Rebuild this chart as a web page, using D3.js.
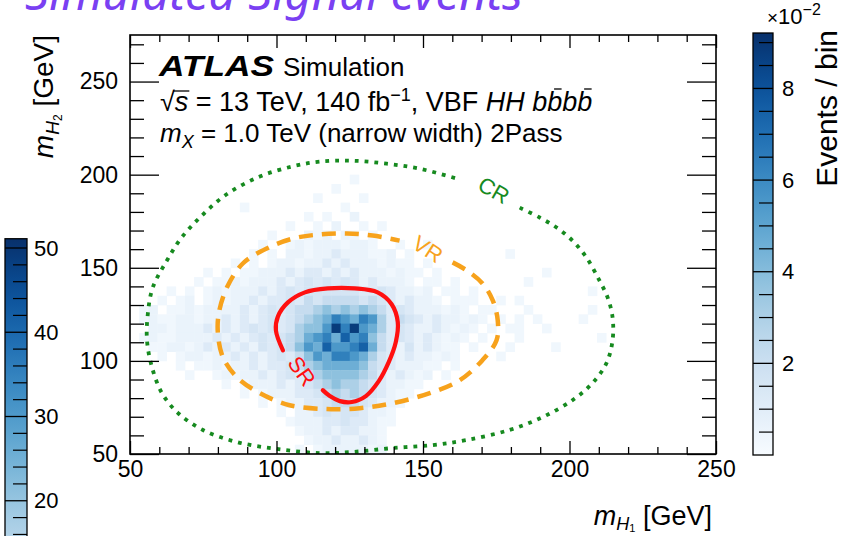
<!DOCTYPE html>
<html>
<head>
<meta charset="utf-8">
<script src="https://cdn.jsdelivr.net/npm/d3@7"></script>
<style>
  body { margin: 0; background: #fff; overflow: hidden; }
  svg { display: block; }
  svg text { font-family: "Liberation Sans", Arial, Helvetica, sans-serif; fill: #000; }
</style>
</head>
<body>
<svg id="chart" width="853" height="536"></svg>
<script>
// axis ranges and ticks
const xDomain = [50, 250];
const yDomain = [50, 275];
const xTickValues = [50, 100, 150, 200, 250];
const yTickValues = [50, 100, 150, 200, 250];

// z axis (events / bin, x 10^-2)
const zDomain = [0, 0.0921];
const zTickValues = [0.02, 0.04, 0.06, 0.08];
const zTickLabels = ["2", "4", "6", "8"];

// palette of the neighbouring plot that is cut off on the left of the slide
const sideDomain = [0, 51.1];
const sideTickValues = [20, 30, 40, 50];

// histogram binning (GeV)
const binWidthX = 3.125;
const binWidthY = 5;

// cell levels
const levelValues = {
  a: 0.003, b: 0.006, c: 0.012,
  "1": 0.016, "2": 0.022, "3": 0.03, "4": 0.038, "5": 0.046,
  "6": 0.055, "7": 0.064, "8": 0.075, "9": 0.088
};

// rows from mH2 = 195-200 (top) down to 50-55 (bottom); columns start at mH1 = 50
const gridRows = [
  "..........|..........|....a.....|..........|..........|...",
  "..........|..........|..a.......|..........|..........|...",
  "..........|..........|a....a....|..........|..........|...",
  "..........|..a.......|...a......|..........|..........|...",
  "..........|.........a|.a..b.....|..........|..........|...",
  "..........|.......a..|a.b..a.a..|..........|..........|...",
  "..........|.....a...b|ab.ba.a...|..........|..........|...",
  "..........|....a..aba|bbbabba..a|..a.......|..........|...",
  "..........|...a.a.bba|bbcbbbaab.|a.........|.a........|...",
  "..........|.a.a.abbab|bcbcbbbaba|a.a.......|..........|...",
  "........a.|a.aabbbcbc|cbcbcbbbab|aa.a......|.....a....|...",
  ".......a.a|ababbbcbc1|c1c1cbcbbb|a.aa.a....|...a......|...",
  "....a.a.ab|abbbcbc1c1|11111cc1cb|bab.aa.a..|..........|a..",
  "...a.ab.ab|abbcbcc1c2|12222121cb|cbba.aaa..|a.a.......|...",
  ".ab.aababb|bbcbc1c122|34343432c1|cbbbaba.aa|...a......|a..",
  ".abaabbabb|cbcbc1c123|45765763c2|1cbcbbaba.|a.a.a....a|...",
  "..bbabbbcb|cbc1c1c134|46979653c1|cbbcbaba.a|.aa..a....|...",
  ".abaabbbbc|bcbc1c1235|67586742c1|cbcbaba.a.|..a.......|.a.",
  "..aabbabcb|cbcb1c1246|58667852cb|1bcbaa.a..|.a....a...|...",
  "...a.abbab|bcbcbc1c24|65776531cb|cbbaba....|a.........|...",
  ".....a.aab|abbcbcc123|45555421cb|bbaa.a....|..........|...",
  "......a..a|babbcbc1c2|3444432cbc|bab.a.....|..........|...",
  "..........|a.abbbcbc1|2343321cbb|aa........|..........|...",
  "..........|..a.abbbcc|1232321cba|a.........|..........|...",
  "..........|....a.abbc|c12221cbba|..........|..........|...",
  "..........|......a.bb|c1c11cbba.|..........|..........|...",
  "..........|.......abb|bcc1ccbaa.|..........|..........|...",
  "..........|........ab|bcbccbba..|..........|..........|...",
  "..........|.........a|bbcbbcba..|..........|..........|...",
  "..........|........a.|abbbbbab..|..........|..........|..."
];

// region boundaries [mH1, mH2] in GeV
const srPoints = [
  [102.2, 105.7], [99.8, 116.4], [100.5, 123.9], [103.9, 131.4], [109.7, 136.8],
  [117.5, 138.9], [126.7, 138.9], [134.5, 136.8], [139.3, 130.4], [141.4, 120.7],
  [140.7, 110.0], [138.3, 99.3], [134.9, 89.1], [130.5, 81.1], [125.7, 77.9],
  [121.6, 78.4], [118.2, 81.1], [115.8, 84.3]
];
const vrPoints = [
  [160.1, 152.9], [164.9, 148.6], [170.3, 141.6], [173.8, 132.5], [175.5, 121.8],
  [175.1, 111.1], [170.3, 100.4], [162.5, 89.6], [152.3, 82.7], [139.7, 77.3],
  [128.4, 74.6], [117.2, 74.1], [104.5, 76.2], [94.3, 82.7], [86.5, 91.2],
  [81.7, 102.0], [80.0, 114.8], [80.3, 125.5], [83.1, 139.5], [88.5, 152.3],
  [96.7, 160.4], [105.6, 165.7], [114.8, 167.9], [124.0, 168.4], [132.8, 167.3],
  [142.0, 164.6]
];
const crPoints = [
  [183.0, 182.3], [189.8, 177.0], [195.6, 171.6], [201.0, 164.6], [205.8, 155.5],
  [210.2, 143.2], [213.0, 134.1], [214.7, 123.4], [214.7, 111.1], [212.6, 98.7],
  [207.8, 88.0], [201.0, 78.9], [190.8, 69.8], [179.5, 62.9], [164.9, 57.5],
  [153.3, 54.8], [139.7, 53.2], [126.0, 51.1], [114.8, 50.5], [100.1, 52.7],
  [86.5, 56.4], [74.9, 62.9], [66.4, 72.0], [60.9, 82.7], [57.5, 96.6],
  [55.8, 111.1], [56.1, 125.5], [57.8, 139.5], [62.6, 153.9], [67.5, 166.0],
  [74.5, 178.0], [83.0, 189.5], [94.3, 199.0], [105.6, 204.5], [114.8, 207.0],
  [126.0, 207.5], [137.6, 205.9], [148.9, 203.2], [161.5, 197.9]
];

const svg = d3.select("#chart");

// slide title above the figure (its top is cut by the slide edge)
const title = svg.append("text")
  .attr("x", 25).attr("y", 10)
  .style("font-family", "'Noto Sans', sans-serif")
  .style("font-style", "italic")
  .style("fill", "#7a40f2")
  .attr("font-size", 40)
  .text("Simulated Signal events");
{
  const w = title.node().getComputedTextLength();
  title.attr("font-size", 40 * 498 / w);
}

const x = d3.scaleLinear().domain(xDomain).range([130, 716]);
const y = d3.scaleLinear().domain(yDomain).range([454, 35]);
const color = d3.scaleSequential(d3.interpolateBlues).domain(zDomain);

svg.append("defs").append("clipPath").attr("id", "plot-clip")
  .append("rect").attr("x", 130).attr("y", 35).attr("width", 586).attr("height", 419);

const plot = svg.append("g").attr("clip-path", "url(#plot-clip)");

// 2D histogram cells
const cells = [];
gridRows.forEach((row, r) => {
  const chars = row.replace(/\|/g, "");
  const j = gridRows.length - 1 - r;
  for (let i = 0; i < chars.length; i++) {
    const v = levelValues[chars[i]];
    if (v) cells.push({ x0: xDomain[0] + i * binWidthX, y0: yDomain[0] + j * binWidthY, v: v });
  }
});

plot.append("g")
  .selectAll("rect")
  .data(cells)
  .join("rect")
  .attr("x", d => x(d.x0))
  .attr("y", d => y(d.y0 + binWidthY))
  .attr("width", d => x(d.x0 + binWidthX) - x(d.x0) + 0.4)
  .attr("height", d => y(d.y0) - y(d.y0 + binWidthY) + 0.4)
  .attr("fill", d => color(d.v));

// region boundaries
const line = d3.line()
  .x(d => x(d[0]))
  .y(d => y(d[1]))
  .curve(d3.curveCatmullRom.alpha(0.5));

plot.append("path")
  .attr("d", line(crPoints))
  .attr("fill", "none")
  .attr("stroke", "#168a1f")
  .attr("stroke-width", 3.8)
  .attr("stroke-dasharray", "3.8 6");

plot.append("path")
  .attr("d", line(vrPoints))
  .attr("fill", "none")
  .attr("stroke", "#f7a21c")
  .attr("stroke-width", 4.5)
  .attr("stroke-dasharray", "14 9");

plot.append("path")
  .attr("d", line(srPoints))
  .attr("fill", "none")
  .attr("stroke", "#ff1010")
  .attr("stroke-width", 4.2)
  .attr("stroke-linecap", "round");

// region labels
const regionLabels = [
  { text: "CR", px: 494, py: 190, angle: 30, fill: "#168a1f" },
  { text: "VR", px: 428, py: 249, angle: 33, fill: "#f7a21c" },
  { text: "SR", px: 302, py: 371, angle: 55, fill: "#ff1010" }
];
svg.append("g")
  .selectAll("text")
  .data(regionLabels)
  .join("text")
  .attr("transform", d => `translate(${d.px},${d.py}) rotate(${d.angle})`)
  .attr("text-anchor", "middle")
  .attr("dy", "0.36em")
  .attr("font-size", 22)
  .style("fill", d => d.fill)
  .text(d => d.text);

// axes (ROOT style: ticks pointing inward on all four sides)
function styleAxis(g) {
  g.select(".domain").remove();
  g.selectAll(".tick line").attr("stroke", "#000").attr("stroke-width", 1.3);
  g.selectAll(".tick text").attr("font-size", 23);
}
const xMinor = d3.range(60, 250, 10).filter(v => v % 50 !== 0);
const yMinor = d3.range(60, 275, 10).filter(v => v % 50 !== 0);

svg.append("g").attr("transform", "translate(0,454)")
  .call(d3.axisBottom(x).tickValues(xTickValues).tickSizeInner(-13).tickSizeOuter(0).tickPadding(7).tickFormat(d3.format("d")))
  .call(styleAxis);
svg.append("g").attr("transform", "translate(0,454)")
  .call(d3.axisBottom(x).tickValues(xMinor).tickSizeInner(-7).tickSizeOuter(0).tickFormat(""))
  .call(styleAxis);
svg.append("g").attr("transform", "translate(0,35)")
  .call(d3.axisTop(x).tickValues(xTickValues).tickSizeInner(-13).tickSizeOuter(0).tickFormat(""))
  .call(styleAxis);
svg.append("g").attr("transform", "translate(0,35)")
  .call(d3.axisTop(x).tickValues(xMinor).tickSizeInner(-7).tickSizeOuter(0).tickFormat(""))
  .call(styleAxis);

svg.append("g").attr("transform", "translate(130,0)")
  .call(d3.axisLeft(y).tickValues(yTickValues).tickSizeInner(-29).tickSizeOuter(0).tickPadding(12).tickFormat(d3.format("d")))
  .call(styleAxis);
svg.append("g").attr("transform", "translate(130,0)")
  .call(d3.axisLeft(y).tickValues(yMinor).tickSizeInner(-14).tickSizeOuter(0).tickFormat(""))
  .call(styleAxis);
svg.append("g").attr("transform", "translate(716,0)")
  .call(d3.axisRight(y).tickValues(yTickValues).tickSizeInner(-29).tickSizeOuter(0).tickFormat(""))
  .call(styleAxis);
svg.append("g").attr("transform", "translate(716,0)")
  .call(d3.axisRight(y).tickValues(yMinor).tickSizeInner(-14).tickSizeOuter(0).tickFormat(""))
  .call(styleAxis);

svg.append("rect")
  .attr("x", 130).attr("y", 35).attr("width", 586).attr("height", 419)
  .attr("fill", "none").attr("stroke", "#000").attr("stroke-width", 1.6);

// axis titles
const xTitle = svg.append("text").attr("x", 712).attr("y", 525).attr("text-anchor", "end").attr("font-size", 27);
xTitle.append("tspan").attr("font-style", "italic").text("m");
xTitle.append("tspan").attr("font-style", "italic").attr("font-size", 18).attr("dy", 5).text("H");
xTitle.append("tspan").attr("font-size", 11).attr("dy", 2).text("1");
xTitle.append("tspan").attr("dy", -7).text(" [GeV]");

const yTitle = svg.append("text").attr("transform", "translate(53,35) rotate(-90)").attr("text-anchor", "end").attr("font-size", 28);
yTitle.append("tspan").attr("font-style", "italic").text("m");
yTitle.append("tspan").attr("font-style", "italic").attr("font-size", 19).attr("dy", 6).text("H");
yTitle.append("tspan").attr("font-size", 12).attr("dy", 3).text("2");
yTitle.append("tspan").attr("dy", -9).text(" [GeV]");

// ATLAS label
const lab = svg.append("g");
lab.append("text").attr("x", 159).attr("y", 76)
  .attr("font-size", 30).attr("font-weight", "bold").attr("font-style", "italic")
  .attr("textLength", 115).attr("lengthAdjust", "spacingAndGlyphs")
  .text("ATLAS");
lab.append("text").attr("x", 283).attr("y", 76).attr("font-size", 26).text("Simulation");

const l2 = lab.append("text").attr("x", 160).attr("y", 111).attr("font-size", 27);
l2.append("tspan").text("\u221A");
l2.append("tspan").attr("font-style", "italic").text("s");
l2.append("tspan").text(" = 13 TeV, 140 fb");
l2.append("tspan").attr("font-size", 18).attr("dy", -10).text("\u22121");
l2.append("tspan").attr("dy", 10).text(", VBF ");
l2.append("tspan").attr("font-style", "italic").text("HH bbbb");
{
  const node = l2.node();
  const full = node.textContent;
  const root = node.getExtentOfChar(0);
  const s = node.getExtentOfChar(1);
  lab.append("line")
    .attr("x1", root.x + root.width - 1).attr("x2", s.x + s.width + 1)
    .attr("y1", root.y + 4).attr("y2", root.y + 4)
    .attr("stroke", "#000").attr("stroke-width", 1.3);
  [full.length - 3, full.length - 1].forEach(i => {
    const b = node.getExtentOfChar(i);
    lab.append("line")
      .attr("x1", b.x + b.width * 0.45).attr("x2", b.x + b.width * 0.95)
      .attr("y1", 89).attr("y2", 89)
      .attr("stroke", "#000").attr("stroke-width", 1.3);
  });
}

const l3 = lab.append("text").attr("x", 160).attr("y", 142).attr("font-size", 26);
l3.append("tspan").attr("font-style", "italic").text("m");
l3.append("tspan").attr("font-style", "italic").attr("font-size", 18).attr("dy", 6).text("X");
l3.append("tspan").attr("dy", -6).text(" = 1.0 TeV (narrow width) 2Pass");

// z colour bar
const z = d3.scaleLinear().domain(zDomain).range([455, 33]);
const grad = svg.select("defs").append("linearGradient")
  .attr("id", "zgrad").attr("x1", 0).attr("x2", 0).attr("y1", 1).attr("y2", 0);
grad.selectAll("stop")
  .data(d3.range(0, 1.0001, 0.05))
  .join("stop")
  .attr("offset", t => t)
  .attr("stop-color", t => color(zDomain[0] + t * (zDomain[1] - zDomain[0])));

const zbar = svg.append("g");
zbar.append("rect")
  .attr("x", 753).attr("y", z(zDomain[1])).attr("width", 20).attr("height", z(zDomain[0]) - z(zDomain[1]))
  .attr("fill", "url(#zgrad)").attr("stroke", "#000").attr("stroke-width", 1.3);
const zMinor = d3.range(0.005, 0.0921, 0.005).filter(v => Math.abs(v * 100 % 2) > 0.01 && Math.abs(v * 100 % 2 - 2) > 0.01);
zbar.selectAll("line.minor").data(zMinor).join("line")
  .attr("x1", 759).attr("x2", 773).attr("y1", d => z(d)).attr("y2", d => z(d))
  .attr("stroke", "#000").attr("stroke-width", 1.2);
zbar.selectAll("line.major").data(zTickValues).join("line")
  .attr("x1", 753).attr("x2", 773).attr("y1", d => z(d)).attr("y2", d => z(d))
  .attr("stroke", "#000").attr("stroke-width", 1.3);
zbar.selectAll("text.lbl").data(zTickValues).join("text")
  .attr("x", 782).attr("y", d => z(d)).attr("dy", "0.35em")
  .attr("font-size", 22)
  .text((d, i) => zTickLabels[i]);
const expo = zbar.append("text").attr("x", 767).attr("y", 24).attr("font-size", 22);
expo.append("tspan").attr("font-size", 19).text("\u00D7");
expo.append("tspan").text("10");
expo.append("tspan").attr("font-size", 16).attr("dy", -9).text("\u22122");
zbar.append("text")
  .attr("transform", "translate(837,30) rotate(-90)")
  .attr("text-anchor", "end")
  .attr("font-size", 30)
  .text("Events / bin");

// neighbouring palette on the slide (cut off at the bottom)
const side = d3.scaleLinear().domain([10, 50]).range([585, 248]);
const sideColor = d3.scaleSequential(d3.interpolateBlues).domain(sideDomain);
const sgrad = svg.select("defs").append("linearGradient")
  .attr("id", "sgrad").attr("gradientUnits", "userSpaceOnUse")
  .attr("x1", 0).attr("x2", 0).attr("y1", side(0)).attr("y2", side(sideDomain[1]));
sgrad.selectAll("stop")
  .data(d3.range(0, 1.0001, 0.05))
  .join("stop")
  .attr("offset", t => t)
  .attr("stop-color", t => sideColor(t * sideDomain[1]));
const sbar = svg.append("g");
sbar.append("rect")
  .attr("x", 5).attr("y", side(sideDomain[1])).attr("width", 22).attr("height", 600)
  .attr("fill", "url(#sgrad)").attr("stroke", "#000").attr("stroke-width", 1.3);
const sMinor = d3.range(12, 51, 2).filter(v => v % 10 !== 0);
sbar.selectAll("line.minor").data(sMinor).join("line")
  .attr("x1", 13).attr("x2", 27).attr("y1", d => side(d)).attr("y2", d => side(d))
  .attr("stroke", "#000").attr("stroke-width", 1.2);
sbar.selectAll("line.major").data(sideTickValues).join("line")
  .attr("x1", 5).attr("x2", 27).attr("y1", d => side(d)).attr("y2", d => side(d))
  .attr("stroke", "#000").attr("stroke-width", 1.3);
sbar.selectAll("text").data(sideTickValues).join("text")
  .attr("x", 34).attr("y", d => side(d)).attr("dy", "0.35em")
  .attr("font-size", 22)
  .text(d => d);
</script>
</body>
</html>
